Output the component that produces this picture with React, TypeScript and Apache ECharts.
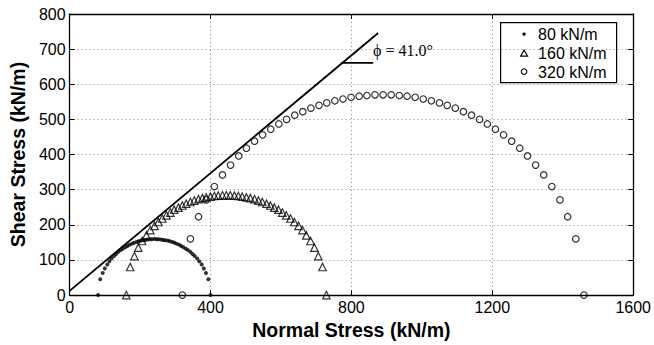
import React, { useEffect, useRef } from "react";
import * as echarts from "echarts";

// Mohr circles at failure for three confining loads (kN/m)
const sigma80 = [81, 87, 94, 100, 107, 113, 119, 126, 132, 138, 145, 151, 158, 164, 170, 177, 183, 190, 196, 202, 209, 215, 221, 228, 234, 241, 247, 253, 260, 266, 272, 279, 285, 292, 298, 304, 311, 317, 323, 330, 336, 343, 349, 355, 362, 368, 375, 381, 387, 394, 400];
const tau80 = [0, 45, 63, 76, 87, 96, 104, 111, 117, 123, 128, 132, 136, 140, 143, 146, 149, 151, 153, 155, 156, 157, 158, 159, 159, 160, 159, 159, 158, 157, 156, 155, 153, 151, 149, 146, 143, 140, 136, 132, 128, 123, 117, 111, 104, 96, 87, 76, 63, 45, 0];

const sigma160 = [161, 172, 184, 195, 206, 218, 229, 241, 252, 263, 275, 286, 297, 309, 320, 331, 343, 354, 366, 377, 388, 400, 411, 422, 434, 445, 456, 468, 479, 490, 502, 513, 525, 536, 547, 559, 570, 581, 593, 604, 615, 627, 638, 650, 661, 672, 684, 695, 706, 718, 729];
const tau160 = [0, 80, 111, 135, 154, 170, 185, 197, 208, 218, 227, 235, 243, 249, 255, 260, 265, 269, 273, 276, 278, 280, 282, 283, 284, 284, 284, 283, 282, 280, 278, 276, 273, 269, 265, 260, 255, 249, 243, 235, 227, 218, 208, 197, 185, 170, 154, 135, 111, 80, 0];

const sigma320 = [320, 343, 366, 388, 411, 434, 457, 480, 502, 525, 548, 571, 594, 616, 639, 662, 685, 708, 730, 753, 776, 799, 822, 844, 867, 890, 913, 936, 958, 981, 1004, 1027, 1050, 1072, 1095, 1118, 1141, 1164, 1186, 1209, 1232, 1255, 1278, 1300, 1323, 1346, 1369, 1392, 1414, 1437, 1460];
const tau320 = [0, 160, 223, 271, 309, 342, 370, 396, 418, 438, 456, 472, 487, 500, 512, 522, 532, 540, 547, 553, 558, 563, 566, 568, 570, 570, 570, 568, 566, 563, 558, 553, 547, 540, 532, 522, 512, 500, 487, 472, 456, 438, 418, 396, 370, 342, 309, 271, 223, 160, 0];

// Failure envelope and the horizontal reference leg of the angle marker
const envelopeSigma = [0, 876];
const envelopeTau = [12, 746];
const angleLegSigma = [770, 862];
const angleLegTau = [661, 661];
const frictionAngle = 41.0;

const seriesNames = ["80 kN/m", "160 kN/m", "320 kN/m"];

const zip = (xs: number[], ys: number[]) => xs.map((x, i) => [x, ys[i]]);

const SANS = "Liberation Sans";

export default function App() {
  const ref = useRef<HTMLDivElement>(null);

  useEffect(() => {
    document.body.style.margin = "0";
    const chart = echarts.init(ref.current!, null, { renderer: "svg" });

    const axisLine = { show: true, onZero: false, lineStyle: { color: "#000", width: 1.3 } };
    const axisTick = { show: true, inside: true, length: 5, lineStyle: { color: "#000", width: 1 } };
    const grid = { show: true, lineStyle: { type: [1, 3], color: "#8a8a8a", width: 1 } };
    const tickLabel = { color: "#000", fontSize: 16, fontFamily: SANS, formatter: (v: number) => String(v) };
    const titleStyle = { color: "#000", fontSize: 19.5, fontWeight: "bold", fontFamily: SANS };
    const hollow = { color: "transparent", borderColor: "#000", borderWidth: 1.2 };

    chart.setOption({
      animation: false,
      backgroundColor: "#fff",
      grid: { left: 66, right: 17, top: 14, bottom: 46 },
      xAxis: [
        {
          type: "value", min: 0, max: 1600, interval: 400, position: "bottom",
          axisLine, axisTick, splitLine: grid,
          axisLabel: { ...tickLabel, margin: 4 },
          name: "Normal Stress (kN/m)", nameLocation: "middle", nameGap: 23, nameTextStyle: titleStyle,
        },
        {
          type: "value", min: 0, max: 1600, interval: 400, position: "top",
          axisLine, axisTick, splitLine: { show: false }, axisLabel: { show: false },
        },
      ],
      yAxis: [
        {
          type: "value", min: 0, max: 800, interval: 100, position: "left",
          axisLine, axisTick, splitLine: grid,
          axisLabel: { ...tickLabel, margin: 4 },
          name: "Shear Stress (kN/m)", nameLocation: "middle", nameGap: 36, nameTextStyle: titleStyle,
        },
        {
          type: "value", min: 0, max: 800, interval: 100, position: "right",
          axisLine, axisTick, splitLine: { show: false }, axisLabel: { show: false },
        },
      ],
      series: [
        {
          name: seriesNames[0], type: "scatter", clip: false, symbol: "circle", symbolSize: 4,
          itemStyle: { color: "#000" }, data: zip(sigma80, tau80),
        },
        {
          name: seriesNames[1], type: "scatter", clip: false, symbol: "triangle", symbolSize: 7.5,
          itemStyle: hollow, data: zip(sigma160, tau160),
        },
        {
          name: seriesNames[2], type: "scatter", clip: false, symbol: "circle", symbolSize: 6.5,
          itemStyle: hollow, data: zip(sigma320, tau320),
        },
        {
          type: "line", symbol: "none", lineStyle: { color: "#000", width: 1.8 },
          data: zip(envelopeSigma, envelopeTau), z: 3,
        },
        {
          type: "line", symbol: "none", lineStyle: { color: "#000", width: 1.8 },
          data: zip(angleLegSigma, angleLegTau), z: 3,
        },
      ],
      graphic: [
        {
          type: "text", left: 373, top: 42,
          style: {
            text: `ϕ = ${frictionAngle.toFixed(1)}°`, fill: "#000",
            fontFamily: "Liberation Serif", fontSize: 16,
          },
        },
        {
          type: "group", left: 500, top: 22,
          children: [
            { type: "rect", shape: { x: 0.5, y: 0.5, width: 116, height: 60 }, style: { fill: "#fff", stroke: "#000", lineWidth: 1.2 } },
            { type: "circle", shape: { cx: 24, cy: 12, r: 1.7 }, style: { fill: "#000" } },
            { type: "polygon", shape: { points: [[24, 28], [27.5, 34], [20.5, 34]] }, style: { fill: "none", stroke: "#000", lineWidth: 1.1 } },
            { type: "circle", shape: { cx: 24, cy: 49.5, r: 2.8 }, style: { fill: "none", stroke: "#000", lineWidth: 1.1 } },
            { type: "text", x: 38, y: 12, style: { text: seriesNames[0], fill: "#000", fontFamily: SANS, fontSize: 16, verticalAlign: "middle" } },
            { type: "text", x: 38, y: 31, style: { text: seriesNames[1], fill: "#000", fontFamily: SANS, fontSize: 16, verticalAlign: "middle" } },
            { type: "text", x: 38, y: 50, style: { text: seriesNames[2], fill: "#000", fontFamily: SANS, fontSize: 16, verticalAlign: "middle" } },
          ],
        },
      ],
    });

    return () => chart.dispose();
  }, []);

  return <div ref={ref} style={{ width: 654, height: 345 }} />;
}
